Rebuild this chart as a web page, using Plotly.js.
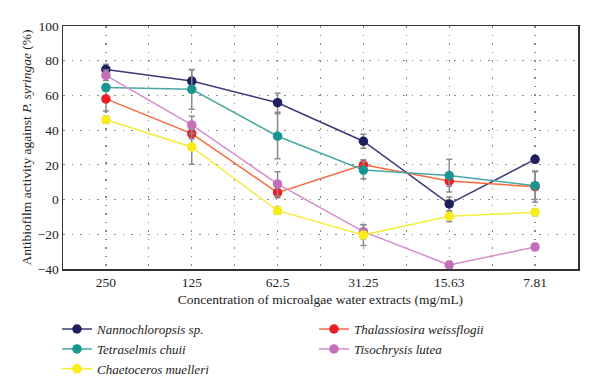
<!DOCTYPE html>
<html>
<head>
<meta charset="utf-8">
<script src="https://cdn.plot.ly/plotly-3.0.1.min.js"></script>
<style>html,body{margin:0;padding:0;background:#fff;}#chart{width:600px;height:383px;}</style>
</head>
<body>
<div id="chart"></div>
<script>
const categories = ["250", "125", "62.5", "31.25", "15.63", "7.81"];

const nannoValues = [75, 68.3, 55.8, 33.6, -2.5, 23.2];
const nannoErrors = [3, 6.5, 5.5, 4, 4, 2];

const tetraValues = [64.5, 63.5, 36.5, 17, 13.8, 8];
const tetraErrors = [2, 11.5, 13, 5, 9.5, 8];

const chaetValues = [46, 30.3, -6.4, -20.4, -9.6, -7.3];
const chaetErrors = [2, 10, 2, 6, 3, 2];

const thalValues = [58, 38, 4, 20, 10.7, 7.4];
const thalErrors = [7, 3, 3, 3, 3, 9];

const tisoValues = [71.6, 43, 9, -18.5, -37.7, -27.3];
const tisoErrors = [3, 5, 7, 4, 2, 2];

const seriesNames = ["Nannochloropsis sp.", "Thalassiosira weissflogii", "Tetraselmis chuii", "Tisochrysis lutea", "Chaetoceros muelleri"];
const yTitle = "Antibiofilm activity against <i>P. syringae</i> (%)";
const xTitle = "Concentration of microalgae water extracts (mg/mL)";

const xPos = categories.map((c, i) => i);
const gridVals = [0, 0.5, 1, 1.5, 2, 2.5, 3, 3.5, 4, 4.5, 5];
const gridText = gridVals.map(v => Number.isInteger(v) ? categories[v] : "");

function mk(name, y, err, lineColor, markerColor) {
  return {
    type: "scatter", mode: "lines+markers", name: name,
    x: xPos, y: y,
    line: {color: lineColor, width: 1.5},
    marker: {color: markerColor, size: 9.5, symbol: "circle"},
    error_y: {type: "data", array: err, visible: true, color: "#8a8a8a", thickness: 1.5, width: 3}
  };
}

const data = [
  mk(seriesNames[0], nannoValues, nannoErrors, "#3a3a78", "#1e1f5c"),
  mk(seriesNames[1], thalValues, thalErrors, "#f86a3c", "#ee1c25"),
  mk(seriesNames[2], tetraValues, tetraErrors, "#4aa8a4", "#1a9690"),
  mk(seriesNames[3], tisoValues, tisoErrors, "#d48ccc", "#c46fb8"),
  mk(seriesNames[4], chaetValues, chaetErrors, "#f5ec3a", "#f5ec1a")
];

const fontFam = "Liberation Serif, DejaVu Serif, serif";
const gridDash = "1.5px,7px";

const layout = {
  width: 600, height: 383,
  margin: {l: 63, r: 22, t: 26, b: 114},
  paper_bgcolor: "#fff", plot_bgcolor: "#fff",
  font: {family: fontFam, size: 13, color: "#222"},
  showlegend: true,
  xaxis: {
    range: [-0.5, 5.5],
    tickmode: "array", tickvals: gridVals, ticktext: gridText,
    showgrid: true, gridcolor: "#888", griddash: gridDash, gridwidth: 1.2,
    zeroline: false, automargin: false,
    showline: true, mirror: true, linecolor: "#333", linewidth: 1.5,
    ticks: "", tickfont: {size: 13.5, family: fontFam},
    title: {text: xTitle, font: {size: 13.5, family: fontFam}, standoff: 6}
  },
  yaxis: {
    range: [-40, 100], dtick: 20, tick0: 0,
    showgrid: true, gridcolor: "#888", griddash: gridDash, gridwidth: 1.2,
    zeroline: false, automargin: false,
    showline: true, mirror: true, linecolor: "#333", linewidth: 1.5,
    ticks: "", tickfont: {size: 13.5, family: fontFam}
  },
  annotations: [{
    text: yTitle, textangle: -90, showarrow: false,
    xref: "paper", yref: "paper", x: -0.07, y: 0.5, xanchor: "center", yanchor: "middle",
    font: {size: 13.5, family: fontFam, color: "#222"}
  }],
  legend: {
    orientation: "h", xref: "container", yref: "container",
    x: 0.095, xanchor: "left", y: 0.18, yanchor: "top",
    entrywidth: 212, entrywidthmode: "pixels",
    font: {size: 13, family: fontFam, style: "italic"},
    traceorder: "normal", bgcolor: "rgba(0,0,0,0)", tracegroupgap: 0
  }
};

Plotly.newPlot("chart", data, layout, {displayModeBar: false, staticPlot: true});
</script>
</body>
</html>
